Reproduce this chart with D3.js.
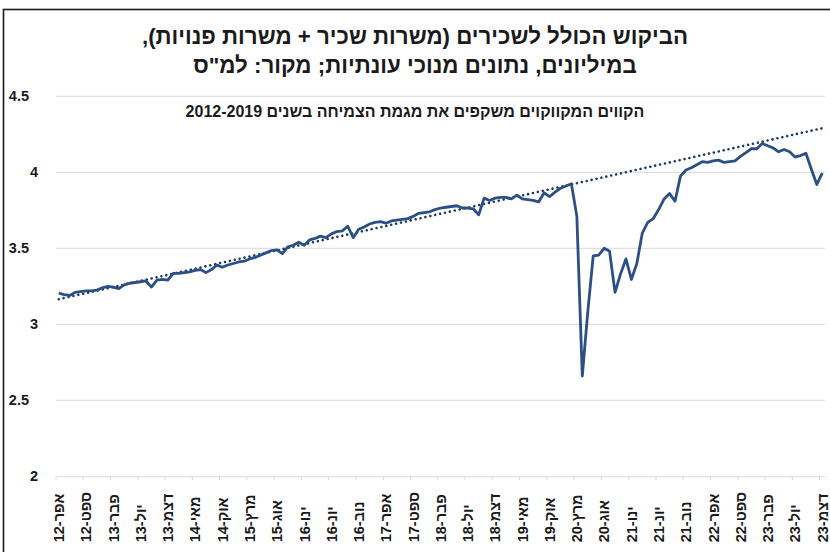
<!DOCTYPE html>
<html>
<head>
<meta charset="utf-8">
<script src="https://cdn.jsdelivr.net/npm/d3@7"></script>
<style>
  body { margin: 0; background: #fff; }
  svg { display: block; font-family: "Liberation Sans", Arial, sans-serif; }
</style>
</head>
<body>
<svg id="chart" width="830" height="552"></svg>
<script>
// ---- data ----
const titleLines = [
  "הביקוש הכולל לשכירים (משרות שכיר + משרות פנויות),",
  "במיליונים, נתונים מנוכי עונתיות; מקור: למ\"ס"
];
const noteText = "הקווים המקווקוים משקפים את מגמת הצמיחה בשנים 2012-2019";

// monthly, Apr-2012 .. Dec-2023 (millions)
const values = [
  3.205, 3.195, 3.19, 3.21, 3.215, 3.22, 3.22, 3.225, 3.24,          // 2012 Apr-Dec
  3.25, 3.245, 3.235, 3.26, 3.27, 3.275, 3.28, 3.285, 3.245, 3.29, 3.295, 3.29,   // 2013
  3.335, 3.335, 3.34, 3.345, 3.355, 3.36, 3.34, 3.36, 3.39, 3.375, 3.39, 3.40,    // 2014
  3.41, 3.415, 3.43, 3.44, 3.455, 3.47, 3.485, 3.49, 3.465, 3.51, 3.52, 3.54,     // 2015
  3.52, 3.555, 3.565, 3.58, 3.57, 3.595, 3.61, 3.615, 3.645, 3.57, 3.625, 3.64,   // 2016
  3.66, 3.67, 3.675, 3.665, 3.68, 3.685, 3.69, 3.695, 3.71, 3.73, 3.735, 3.74,    // 2017
  3.755, 3.765, 3.77, 3.775, 3.78, 3.765, 3.765, 3.76, 3.72, 3.83, 3.815, 3.83,   // 2018
  3.835, 3.835, 3.825, 3.85, 3.825, 3.82, 3.815, 3.805, 3.865, 3.84, 3.87, 3.895, // 2019
  3.91, 3.925, 3.71, 2.66, 3.08, 3.45, 3.455, 3.50, 3.48, 3.21, 3.33, 3.43,       // 2020
  3.295, 3.40, 3.60, 3.67, 3.695, 3.755, 3.825, 3.86, 3.81, 3.975, 4.015, 4.03,   // 2021
  4.05, 4.07, 4.065, 4.075, 4.08, 4.065, 4.07, 4.075, 4.105, 4.13, 4.155, 4.155,  // 2022
  4.19, 4.175, 4.16, 4.135, 4.15, 4.135, 4.10, 4.11, 4.125, 4.02, 3.92, 3.995     // 2023
];

// linear trend 2012-2019, value at first and last month
const trendValues = [3.165, 4.29];

const tickLabels = [
  "אפר-12", "ספט-12", "פבר-13", "יול-13", "דצמ-13", "מאי-14", "אוק-14", "מרץ-15",
  "אוג-15", "ינו-16", "יונ-16", "נוב-16", "אפר-17", "ספט-17", "פבר-18", "יול-18",
  "דצמ-18", "מאי-19", "אוק-19", "מרץ-20", "אוג-20", "ינו-21", "יונ-21", "נוב-21",
  "אפר-22", "ספט-22", "פבר-23", "יול-23", "דצמ-23"
];
const yTicks = [2, 2.5, 3, 3.5, 4, 4.5];

// categories: one per month, starting April 2012
const categories = values.map((v, i) => {
  const m = 3 + i;
  return (2012 + Math.floor(m / 12)) + "-" + String(m % 12 + 1).padStart(2, "0");
});
const tickCats = categories.filter((c, i) => i % 5 === 0);

// ---- layout ----
const plotL = 56, plotR = 825, plotT = 96.3, plotB = 476.3;
const svg = d3.select("#chart");

const x = d3.scaleBand().domain(categories).range([plotL, plotR]).padding(0);
const y = d3.scaleLinear().domain([2, 4.5]).range([plotB, plotT]);
const bw = x.bandwidth();
const cx = c => x(c) + bw / 2;

// frame (chart cropped on right/bottom)
svg.append("rect")
  .attr("x", 3.5).attr("y", 9.5)
  .attr("width", 900).attr("height", 900)
  .attr("fill", "none").attr("stroke", "#1a1a1a").attr("stroke-width", 1.6);

// title
svg.append("g").selectAll("text").data(titleLines).join("text")
  .attr("x", 415).attr("y", (d, i) => 44 + i * 29)
  .attr("text-anchor", "middle").attr("direction", "rtl")
  .attr("font-size", 22.3).attr("font-weight", "bold").attr("fill", "#1a1a1a")
  .text(d => d);

// gridlines
svg.append("g").selectAll("line").data(yTicks.filter(v => v > 2)).join("line")
  .attr("x1", plotL).attr("x2", plotR)
  .attr("y1", d => y(d)).attr("y2", d => y(d))
  .attr("stroke", "#d9d9d9").attr("stroke-width", 1);

// y labels
svg.append("g").selectAll("text").data(yTicks).join("text")
  .attr("x", d => Number.isInteger(d) ? 38 : 29)
  .attr("y", d => y(d)).attr("dy", "0.35em")
  .attr("text-anchor", "end")
  .attr("font-size", 14.5).attr("font-weight", "bold").attr("fill", "#1a1a1a")
  .text(d => String(d));

// x axis
const xAxis = svg.append("g")
  .attr("transform", `translate(0,${plotB})`)
  .call(d3.axisBottom(x).tickValues(tickCats).tickSize(4).tickSizeOuter(0)
    .tickFormat((d, i) => tickLabels[i]));
xAxis.select(".domain").attr("stroke", "#d9d9d9");
xAxis.selectAll(".tick line").attr("stroke", "#d9d9d9").attr("x1", -bw / 2).attr("x2", -bw / 2);
xAxis.selectAll(".tick text")
  .attr("transform", "translate(0,66) rotate(-90)")
  .attr("x", 0).attr("y", 0).attr("dy", "0.37em")
  .attr("text-anchor", "start")
  .attr("font-size", 14.5).attr("font-weight", "bold").attr("fill", "#1a1a1a")
  .attr("font-family", "\"Liberation Sans\", Arial, sans-serif");

// note inside plot
svg.append("text")
  .attr("x", 415).attr("y", 117)
  .attr("text-anchor", "middle").attr("direction", "rtl")
  .attr("font-size", 16).attr("font-weight", "bold").attr("fill", "#1a1a1a")
  .text(noteText);

// trend line (dotted)
const trendCats = [categories[0], categories[categories.length - 1]];
svg.append("path")
  .datum(trendCats.map((c, i) => ({ c, v: trendValues[i] })))
  .attr("d", d3.line().x(d => cx(d.c)).y(d => y(d.v)))
  .attr("fill", "none").attr("stroke", "#203864")
  .attr("stroke-width", 2.6).attr("stroke-linecap", "round")
  .attr("stroke-dasharray", "0.01 5");

// main series
svg.append("path")
  .datum(values.map((v, i) => ({ c: categories[i], v })))
  .attr("d", d3.line().x(d => cx(d.c)).y(d => y(d.v)))
  .attr("fill", "none").attr("stroke", "#2c4f86")
  .attr("stroke-width", 2.8).attr("stroke-linejoin", "round");
</script>
</body>
</html>
